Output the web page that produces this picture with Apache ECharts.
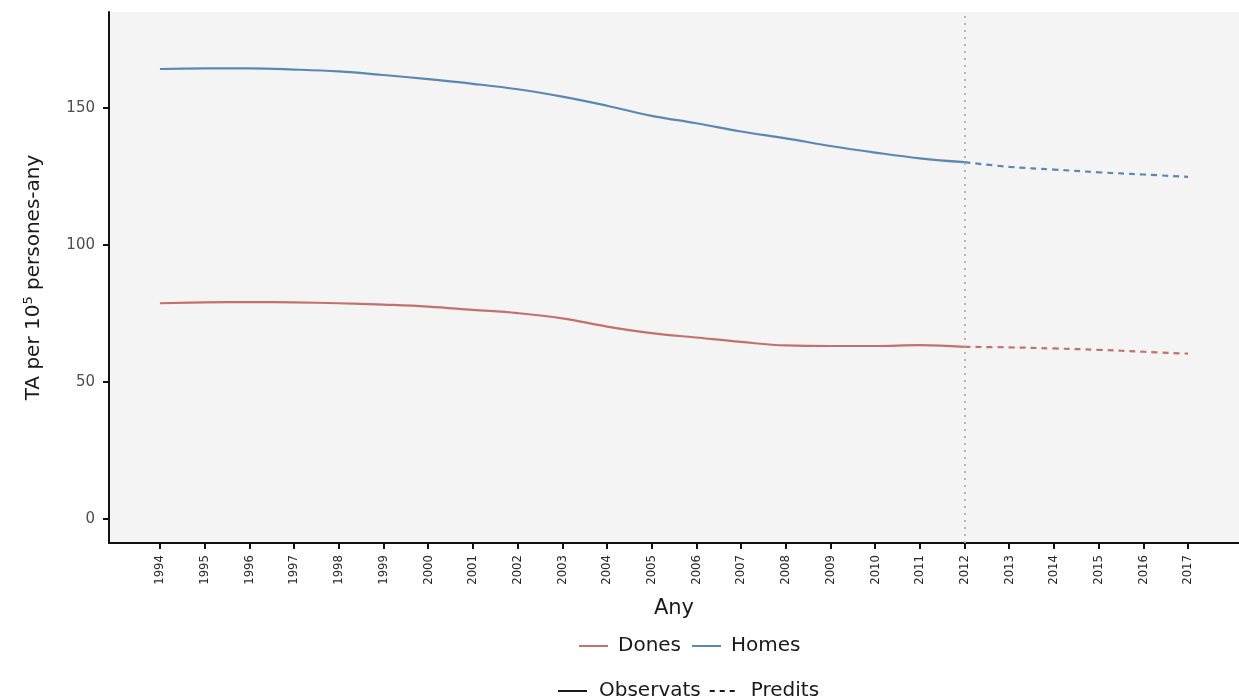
<!DOCTYPE html>
<html>
<head>
<meta charset="utf-8">
<script src="https://cdn.jsdelivr.net/npm/echarts@6/dist/echarts.min.js"></script>
<style>
html,body{margin:0;padding:0;background:#fff;}
#chart{width:1239px;height:697px;}
</style>
</head>
<body>
<div id="chart"></div>
<script>
// ---- data ----
const obsYears = [1994,1995,1996,1997,1998,1999,2000,2001,2002,2003,2004,2005,2006,2007,2008,2009,2010,2011,2012];
const homesObs = [164.2,164.4,164.4,164.0,163.3,162.0,160.5,158.8,156.8,154.1,150.8,147.1,144.4,141.4,138.9,136.1,133.7,131.6,130.2];
const donesObs = [78.7,79.0,79.1,79.0,78.7,78.2,77.5,76.3,75.1,73.2,70.2,67.8,66.2,64.6,63.3,63.1,63.1,63.4,62.8];
const predYears = [2012,2013,2014,2015,2016,2017];
const homesPred = [130.2,128.5,127.5,126.5,125.7,124.8];
const donesPred = [62.8,62.6,62.2,61.7,61.0,60.3];
const xTicks = [1994,1995,1996,1997,1998,1999,2000,2001,2002,2003,2004,2005,2006,2007,2008,2009,2010,2011,2012,2013,2014,2015,2016,2017];
const yTicks = [0,50,100,150];
const cutYear = 2012;

const cHomes = '#5b87b3';
const cDones = '#c4706c';

const pair = (xs, ys) => xs.map((x, i) => [x, ys[i]]);

const legendText = {fontFamily: 'DejaVu Sans', fontSize: 20, color: '#1a1a1a', padding: [0, 0, 0, 5]};

const chart = echarts.init(document.getElementById('chart'), null, {renderer: 'canvas'});
chart.setOption({
  animation: false,
  backgroundColor: '#ffffff',
  grid: {
    left: 109, top: 12, width: 1148, height: 531,
    show: true, backgroundColor: '#f4f4f4', borderWidth: 0
  },
  xAxis: {
    type: 'value', min: 1992.86, max: 2018.14,
    name: 'Any', nameLocation: 'middle', nameGap: 55,
    nameTextStyle: {fontFamily: 'DejaVu Sans', fontSize: 21, color: '#1a1a1a'},
    axisLine: {show: true, onZero: false, lineStyle: {color: '#111', width: 2}},
    axisTick: {show: true, customValues: xTicks, length: 6, lineStyle: {color: '#111', width: 2}},
    axisLabel: {
      customValues: xTicks, rotate: 90, margin: 12,
      fontFamily: "'DejaVu Sans Condensed', 'Liberation Sans Narrow', sans-serif",
      fontSize: 13, color: '#2a2a2a',
      formatter: v => String(v)
    },
    splitLine: {show: false}
  },
  yAxis: {
    type: 'value', min: -8.8, max: 185,
    name: '{a|TA per 10}{sup|5}{a| persones-any}', nameLocation: 'middle', nameGap: 64,
    nameTextStyle: {
      fontFamily: 'DejaVu Sans', fontSize: 20, color: '#1a1a1a',
      rich: {
        a: {fontFamily: 'DejaVu Sans', fontSize: 20, color: '#1a1a1a'},
        sup: {fontFamily: 'DejaVu Sans', fontSize: 13, color: '#1a1a1a', verticalAlign: 'top', padding: [0, 0, 10, 0]}
      }
    },
    axisLine: {show: true, onZero: false, lineStyle: {color: '#111', width: 2}},
    axisTick: {show: true, customValues: yTicks, length: 6, lineStyle: {color: '#111', width: 2}},
    axisLabel: {customValues: yTicks, margin: 14, fontFamily: 'DejaVu Sans', fontSize: 15, color: '#4d4d4d'},
    splitLine: {show: false}
  },
  legend: [
    {
      data: ['Dones', 'Homes'], left: 578, top: 636, padding: 0,
      itemWidth: 29, itemHeight: 14, itemGap: 10,
      itemStyle: {opacity: 0},
      textStyle: legendText,
      selectedMode: false
    },
    {
      data: ['Observats', 'Predits'], left: 557, top: 681, padding: 0,
      itemWidth: 29, itemHeight: 14, itemGap: 8,
      itemStyle: {opacity: 0},
      textStyle: Object.assign({}, legendText, {padding: [0, 0, 0, 7]}),
      selectedMode: false
    }
  ],
  series: [
    {
      name: 'Dones', type: 'line', data: pair(obsYears, donesObs), smooth: 0.4,
      symbol: 'none', color: cDones, lineStyle: {width: 2.2, color: cDones}
    },
    {
      name: 'Homes', type: 'line', data: pair(obsYears, homesObs), smooth: 0.4,
      symbol: 'none', color: cHomes, lineStyle: {width: 2.2, color: cHomes},
      markLine: {
        silent: true, symbol: ['none', 'none'], label: {show: false},
        lineStyle: {type: [2, 5], color: '#b5b5b5', width: 2},
        data: [{xAxis: cutYear}]
      }
    },
    {
      name: 'Dones pred', type: 'line', data: pair(predYears, donesPred), smooth: 0.4,
      symbol: 'none', color: cDones, lineStyle: {width: 2.2, color: cDones, type: [6, 5]}
    },
    {
      name: 'Homes pred', type: 'line', data: pair(predYears, homesPred), smooth: 0.4,
      symbol: 'none', color: cHomes, lineStyle: {width: 2.2, color: cHomes, type: [6, 5]}
    },
    {
      name: 'Observats', type: 'line', data: [], symbol: 'none',
      color: '#1a1a1a', lineStyle: {width: 2, color: '#1a1a1a'}
    },
    {
      name: 'Predits', type: 'line', data: [], symbol: 'none',
      color: '#1a1a1a', lineStyle: {width: 2, color: '#1a1a1a', type: [5, 5]}
    }
  ]
});
</script>
</body>
</html>
